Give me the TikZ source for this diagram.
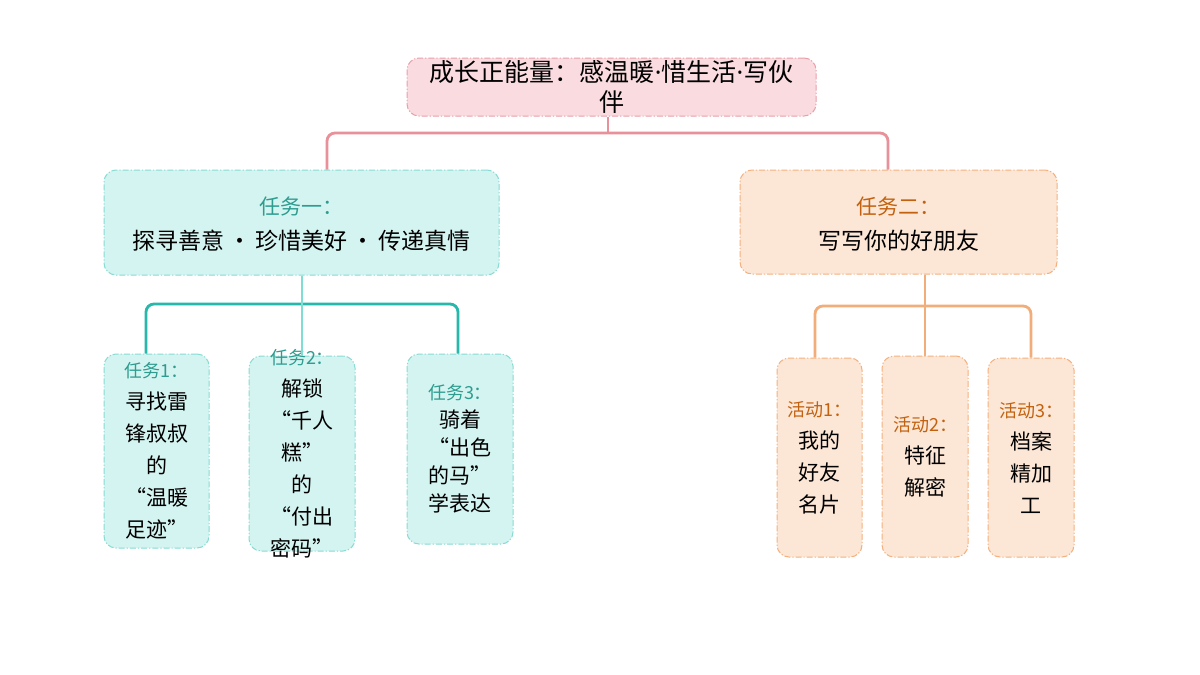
\documentclass[tikz,border=0pt]{standalone}
\usepackage{fontspec}
\setmainfont{Noto Sans CJK SC}
\newfontfamily\fwfont{Noto Sans CJK SC}[RawFeature=+fwid]
\newfontfamily\latinfont{Noto Sans}
\usetikzlibrary{positioning}

\definecolor{rootfill}{HTML}{FADBE0}
\definecolor{rootborder}{HTML}{E9A0AA}
\definecolor{rootline}{HTML}{E8919B}
\definecolor{tealfill}{HTML}{D4F4F1}
\definecolor{tealborder}{HTML}{8ADBD3}
\definecolor{tealline}{HTML}{26B8AA}
\definecolor{teallight}{HTML}{80DDD4}
\definecolor{tealtxt}{HTML}{2E9C8F}
\definecolor{orgfill}{HTML}{FCE6D5}
\definecolor{orgborder}{HTML}{F4B17F}
\definecolor{orgline}{HTML}{F2AE7A}
\definecolor{orgtxt}{HTML}{C2610F}

\newcommand{\oq}{{\fwfont “}}
\newcommand{\cq}{{\fwfont ”}}
\newcommand{\middot}{{\latinfont\bfseries ·}}
\newcommand{\sepdot}{\hspace{4pt}•\hspace{4pt}}

\begin{document}
\begin{tikzpicture}[x=1pt, y=-1pt]

\tikzstyle{box}=[rectangle, draw, rounded corners=12pt, line width=1pt, inner sep=0pt,
  dash pattern=on 6pt off 2pt on 1.2pt off 2pt]
\tikzstyle{rootbox}=[box, draw=rootborder, fill=rootfill]
\tikzstyle{tealbox}=[box, draw=tealborder, fill=tealfill]
\tikzstyle{orgbox}=[box, draw=orgborder, fill=orgfill]
\tikzstyle{txt}=[align=center, inner sep=0pt, font=\fontsize{21}{32}\selectfont]
\tikzstyle{tasktxt}=[align=center, inner sep=0pt, font=\fontsize{23}{35}\selectfont]
\tikzstyle{conn}=[line width=2.8pt, rounded corners=8pt]

\fill[white] (0,0) rectangle (1200,675);
\useasboundingbox (0,0) rectangle (1200,675);

% boxes
\node (root) [rootbox, minimum width=409pt, minimum height=58pt] at (611.5,87) {};
\node (t1) [tealbox, minimum width=395pt, minimum height=105pt] at (301.5,222.5) {};
\node (t2) [orgbox, minimum width=317pt, minimum height=104pt] at (898.5,222) {};

\node (s1) [tealbox, minimum width=105pt, minimum height=194pt] at (156.5,451) {};
\node (s2) [tealbox, minimum width=106pt, minimum height=195pt] at (302,453.5) {};
\node (s3) [tealbox, minimum width=106pt, minimum height=190pt] at (460,449) {};

\node (a1) [orgbox, minimum width=85pt, minimum height=199pt] at (819.5,457.5) {};
\node (a2) [orgbox, minimum width=86pt, minimum height=201pt] at (925,456.5) {};
\node (a3) [orgbox, minimum width=86pt, minimum height=199pt] at (1031,457.5) {};

% texts
\node (roottxt) [align=center, inner sep=0pt, font=\fontsize{25}{30}\selectfont] at (root.center)
  {成长正能量：感温暖\middot 惜生活\middot 写伙\\伴};
\node (t1txt) [tasktxt] at (301.5,224.5)
  {{\fontsize{21}{35}\selectfont\color{tealtxt}任务一：}\\探寻善意\sepdot 珍惜美好\sepdot 传递真情};
\node (t2txt) [tasktxt] at (898.5,224)
  {{\fontsize{21}{35}\selectfont\color{orgtxt}任务二：}\\写写你的好朋友};

\node (s1txt) [txt] at (s1.center)
  {{\fontsize{18}{32}\selectfont\color{tealtxt}任务1：}\\寻找雷\\锋叔叔\\的\\\oq 温暖\\足迹\cq};
\node (s2txt) [txt] at (s2.center)
  {{\fontsize{18}{32}\selectfont\color{tealtxt}任务2：}\\解锁\\\oq 千人\\糕\cq\\的\\\oq 付出\\密码\cq};
\node (s3txt) [txt, font=\fontsize{21}{28}\selectfont] at (s3.center)
  {{\fontsize{18}{28}\selectfont\color{tealtxt}任务3：}\\骑着\\\oq 出色\\的马\cq\\学表达};

\node (a1txt) [txt] at (a1.center)
  {{\fontsize{18}{32}\selectfont\color{orgtxt}活动1：}\\我的\\好友\\名片};
\node (a2txt) [txt] at (a2.center)
  {{\fontsize{18}{32}\selectfont\color{orgtxt}活动2：}\\特征\\解密};
\node (a3txt) [txt] at (a3.center)
  {{\fontsize{18}{32}\selectfont\color{orgtxt}活动3：}\\档案\\精加\\工};

% connectors
\coordinate (rj) at (608,133);
\coordinate (tj) at (302,304);
\coordinate (oj) at (924,306);

\draw[conn, rootline] (root.south -| rj) -- (rj);
\draw[conn, rootline] ([xshift=25.5pt]t1.north) |- (rj) -| ([xshift=-10.5pt]t2.north);

\draw[conn, tealline] ([xshift=-10.5pt]s1.north) |- (tj) -| ([xshift=-2pt]s3.north);
\draw[conn, teallight] (t1.south -| s2.north) -- (s2.north);

\draw[conn, orgline] (a2.north |- t2.south) -- (a2.north);
\draw[conn, orgline] ([xshift=-4.5pt]a1.north) |- (oj) -| (a3.north);

\end{tikzpicture}
\end{document}
